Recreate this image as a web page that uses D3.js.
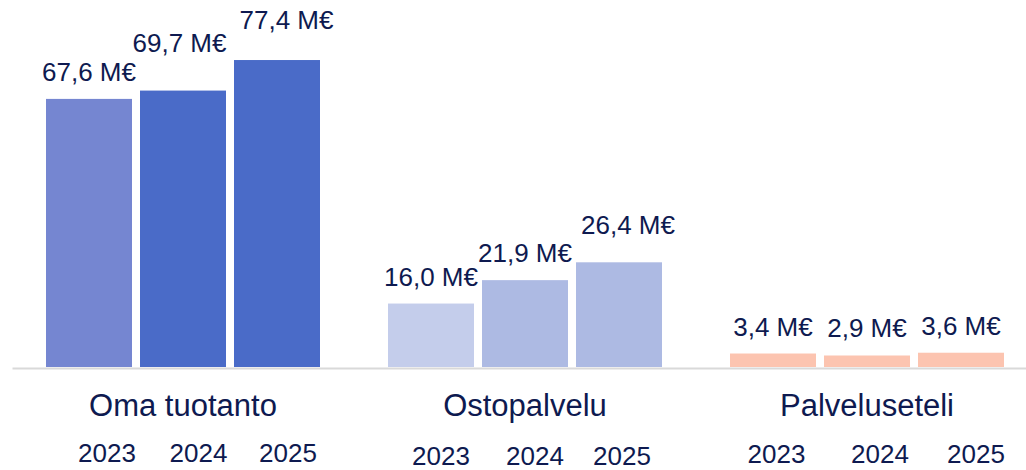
<!DOCTYPE html>
<html>
<head>
<meta charset="utf-8">
<script src="https://cdn.jsdelivr.net/npm/d3@7"></script>
<style>
  html, body { margin: 0; padding: 0; background: #fff; }
  text { font-family: "Liberation Sans", Arial, sans-serif; fill: #0e1a50; }
</style>
</head>
<body>
<div id="chart"></div>
<script>
// data
var categories = ["Oma tuotanto", "Ostopalvelu", "Palveluseteli"];
var years = ["2023", "2024", "2025"];
var omaTuotanto = [67.6, 69.7, 77.4];
var ostopalvelu = [16.0, 21.9, 26.4];
var palveluseteli = [3.4, 2.9, 3.6];
var seriesValues = [omaTuotanto, ostopalvelu, palveluseteli];

// colours per group / year
var colors = [
  ["#7586d1", "#4a6bc8", "#4a6bc8"],
  ["#c4cdeb", "#adbae3", "#adbae3"],
  ["#fcc4b0", "#fcc4b0", "#fcc4b0"]
];

// hand placed labels in the original (layout only)
var labelNudge = [
  [[0, 0], [-3.5, -21], [9.5, -13]],
  [[0, 0], [0, 0], [9, -10]],
  [[0, 0], [0, 0], [0, 0]]
];
var yearDx = [[18, 15.5, 11], [10, 10, 3], [3.5, 13, 15]];
var yearY = [462, 465, 463];

var width = 1026, height = 470, baseY = 367;

var svg = d3.select("#chart")
    .append("svg")
    .attr("width", width)
    .attr("height", height);

var x0 = d3.scaleBand()
    .domain(categories)
    .range([12, 1038])
    .padding(0);

var x1 = d3.scaleBand()
    .domain(years)
    .range([34, 308])
    .paddingInner(8 / 94)
    .paddingOuter(0);

var y = d3.scaleLinear()
    .domain([0, 80])
    .range([baseY, baseY - 80 * 3.966]);

var rows = [];
categories.forEach(function(c, i) {
  years.forEach(function(yr, j) {
    rows.push({cat: c, ci: i, year: yr, yi: j, value: seriesValues[i][j]});
  });
});

// bars
svg.append("g").selectAll("rect")
    .data(rows)
    .enter()
    .append("rect")
    .attr("x", function(d) { return x0(d.cat) + x1(d.year); })
    .attr("y", function(d) { return y(d.value); })
    .attr("width", x1.bandwidth())
    .attr("height", function(d) { return y(0) - y(d.value); })
    .style("fill", function(d) { return colors[d.ci][d.yi]; });

// axis line
var axis = svg.append("g")
    .attr("transform", "translate(0," + (baseY + 1) + ")")
    .call(d3.axisBottom(x0).tickSize(0).tickSizeOuter(0).tickFormat(""));
axis.select(".domain").attr("stroke", "#d9d9d9").attr("stroke-width", 2);
axis.selectAll(".tick").remove();

// value labels
svg.append("g").selectAll("text")
    .data(rows)
    .enter()
    .append("text")
    .attr("x", function(d) { return x0(d.cat) + x1(d.year) + x1.bandwidth() / 2 + labelNudge[d.ci][d.yi][0]; })
    .attr("y", function(d) { return y(d.value) - 18 + labelNudge[d.ci][d.yi][1]; })
    .attr("text-anchor", "middle")
    .style("font-size", "26px")
    .text(function(d) { return d3.format(".1f")(d.value).replace(".", ",") + " M€"; });

// category labels
svg.append("g").selectAll("text")
    .data(categories)
    .enter()
    .append("text")
    .attr("x", function(d) { return x0(d) + x0.bandwidth() / 2; })
    .attr("y", 416)
    .attr("text-anchor", "middle")
    .style("font-size", "31px")
    .text(function(d) { return d; });

// year labels
svg.append("g").selectAll("text")
    .data(rows)
    .enter()
    .append("text")
    .attr("x", function(d) { return x0(d.cat) + x1(d.year) + x1.bandwidth() / 2 + yearDx[d.ci][d.yi]; })
    .attr("y", function(d) { return yearY[d.ci]; })
    .attr("text-anchor", "middle")
    .style("font-size", "26px")
    .text(function(d) { return d.year; });
</script>
</body>
</html>
